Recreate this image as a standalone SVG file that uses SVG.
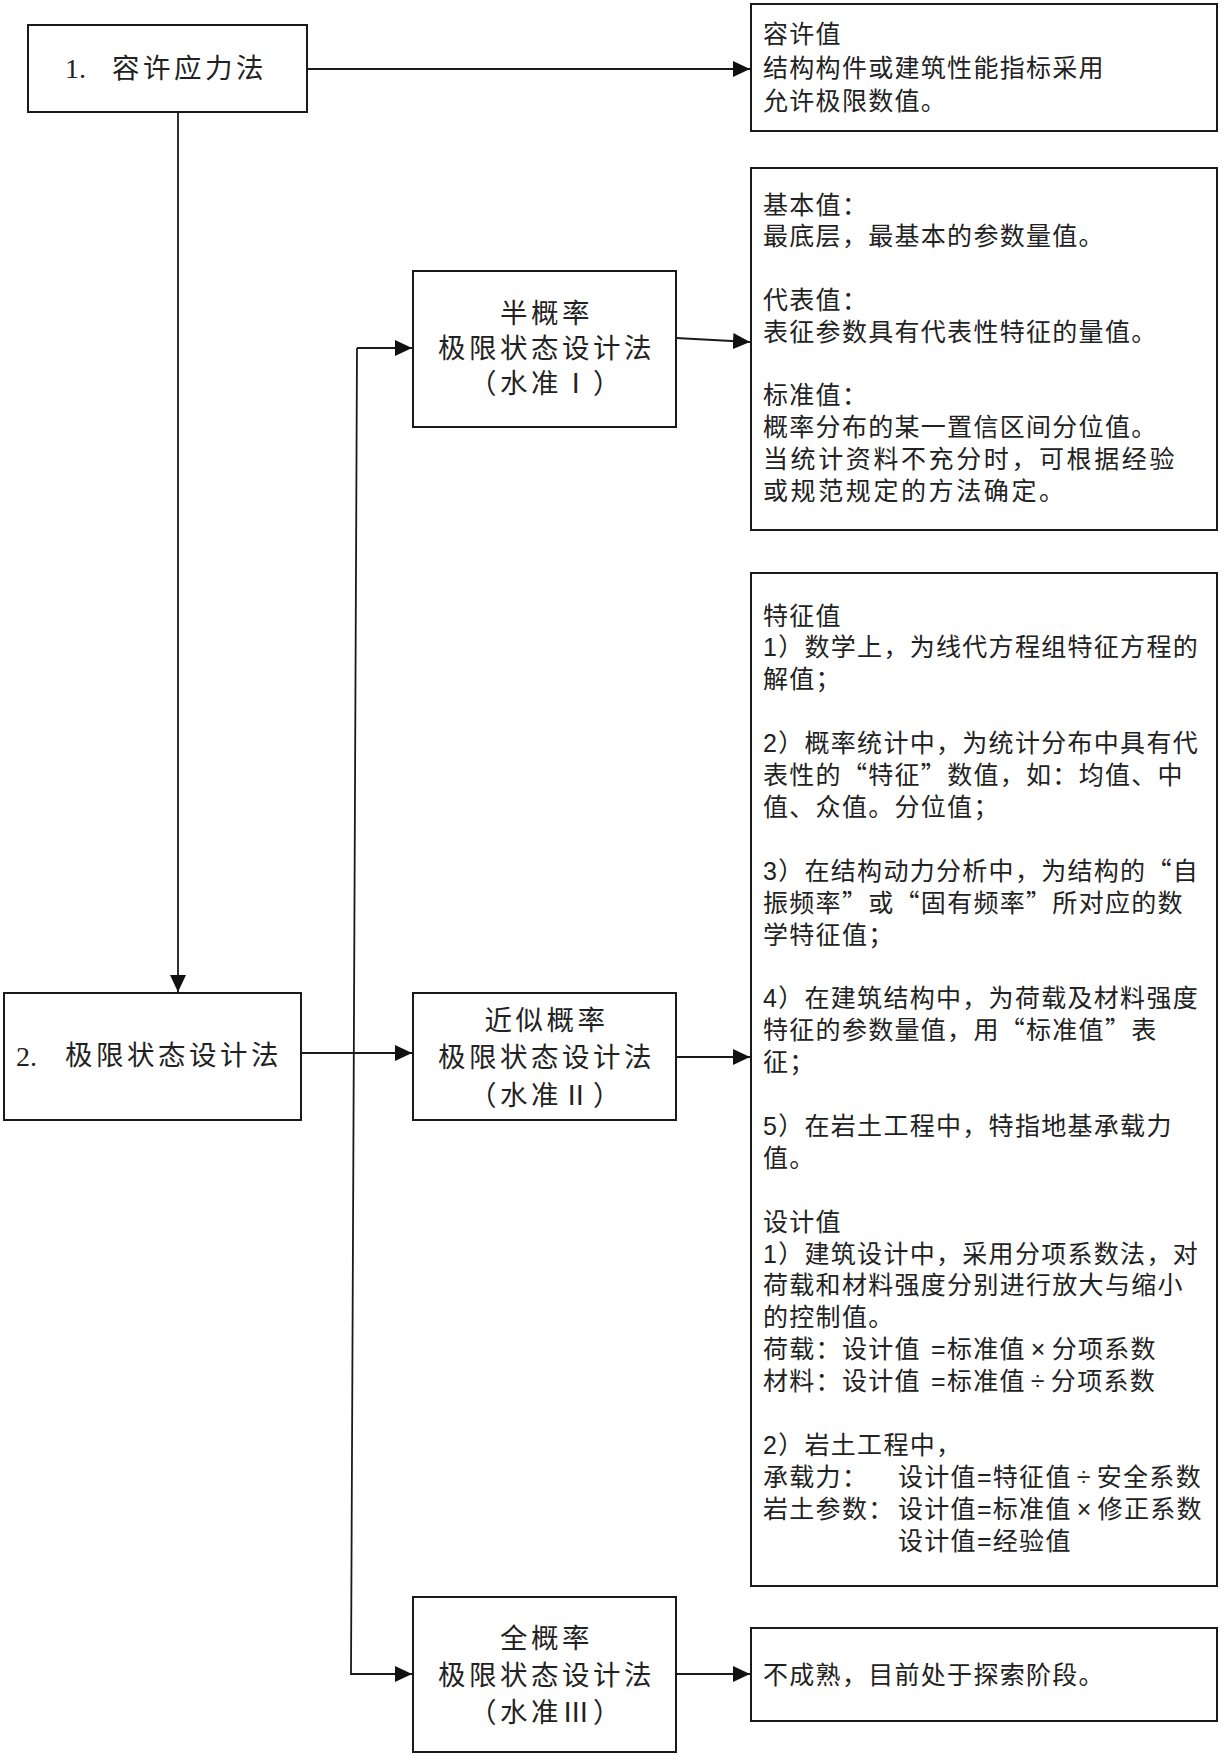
<svg xmlns="http://www.w3.org/2000/svg" width="1225" height="1756" viewBox="0 0 1225 1756">
<defs>
<style>
.box{fill:#fff;stroke:#1a1a1a;stroke-width:2}
.ln{fill:none;stroke:#1a1a1a;stroke-width:1.8}
.t{font-family:"Liberation Sans","Noto Sans CJK SC","Noto Sans CJK JP",sans-serif;font-size:25px;fill:#222;letter-spacing:1.3px}
.m{font-family:"Liberation Sans","Noto Sans CJK SC","Noto Sans CJK JP",sans-serif;font-size:27.5px;fill:#222;letter-spacing:3.5px;text-anchor:middle}
.h{font-family:"Liberation Sans","Noto Sans CJK SC","Noto Sans CJK JP",sans-serif;font-size:27.5px;fill:#222;letter-spacing:3.5px}
.d{font-family:"Liberation Serif",serif;font-size:28px;fill:#222}
.c{font-family:"Noto Sans CJK SC","Noto Sans CJK JP",sans-serif}
</style>
<marker id="ah" markerUnits="userSpaceOnUse" markerWidth="18" markerHeight="16" refX="17" refY="8" orient="auto" viewBox="0 0 18 16"><path d="M0,0 L17,8 L0,16 z" fill="#111"/></marker>
</defs>
<rect width="1225" height="1756" fill="#fff"/>

<g id="connectors">
<path class="ln" d="M307,69 L750,69" marker-end="url(#ah)"/>
<path class="ln" d="M178,112 L178,992" marker-end="url(#ah)"/>
<path class="ln" d="M301,1053 L412,1053" marker-end="url(#ah)"/>
<path class="ln" d="M357,348 L412,348" marker-end="url(#ah)"/>
<path class="ln" d="M357,348 L351,1674 L412,1674" marker-end="url(#ah)"/>
<path class="ln" d="M676,338 L750,342" marker-end="url(#ah)"/>
<path class="ln" d="M676,1057 L750,1057" marker-end="url(#ah)"/>
<path class="ln" d="M676,1674 L750,1674" marker-end="url(#ah)"/>
</g>

<g id="n1">
<rect class="box" x="28" y="25" width="279" height="87"/>
<text class="d" x="65" y="78">1.</text>
<text class="h" x="112" y="78">容许应力法</text>
</g>

<g id="n2">
<rect class="box" x="4" y="993" width="297" height="127"/>
<text class="d" x="16" y="1066">2.</text>
<text class="h" x="65" y="1065">极限状态设计法</text>
</g>

<g id="n_half">
<rect class="box" x="413" y="271" width="263" height="156"/>
<text class="m" x="546.5" y="323">半概率</text>
<text class="m" x="546.5" y="358">极限状态设计法</text>
<text class="m" x="546.5" y="393">（水准Ⅰ）</text>
</g>

<g id="n_approx">
<rect class="box" x="413" y="993" width="263" height="127"/>
<text class="m" x="546.5" y="1030">近似概率</text>
<text class="m" x="546.5" y="1067">极限状态设计法</text>
<text class="m" x="546.5" y="1104.5">（水准Ⅱ）</text>
</g>

<g id="n_full">
<rect class="box" x="413" y="1597" width="263" height="155"/>
<text class="m" x="546.5" y="1648">全概率</text>
<text class="m" x="546.5" y="1685">极限状态设计法</text>
<text class="m" x="546.5" y="1722">（水准Ⅲ）</text>
</g>

<g id="n_allow">
<rect class="box" x="751" y="4" width="466" height="127"/>
<text class="t" x="763" y="43">容许值<tspan x="763" dy="34">结构构件或建筑性能指标采用</tspan><tspan x="763" dy="33">允许极限数值。</tspan></text>
</g>

<g id="n_basic">
<rect class="box" x="751" y="168" width="466" height="362"/>
<text class="t" x="763" y="213.5">基本值：<tspan x="763" dy="31.8">最底层，最基本的参数量值。</tspan><tspan x="763" dy="63.7">代表值：</tspan><tspan x="763" dy="31.8">表征参数具有代表性特征的量值。</tspan><tspan x="763" dy="63.6">标准值：</tspan><tspan x="763" dy="31.8">概率分布的某一置信区间分位值。</tspan><tspan x="763" dy="31.8" style="letter-spacing:2.6px">当统计资料不充分时，可根据经验</tspan><tspan x="763" dy="31.8" style="letter-spacing:2.6px">或规范规定的方法确定。</tspan></text>
</g>

<g id="n_char">
<rect class="box" x="751" y="573" width="466" height="1013"/>
<text class="t" x="763" y="624.5">特征值<tspan x="763" dy="31.9">1）数学上，为线代方程组特征方程的</tspan><tspan x="763" dy="31.9">解值；</tspan><tspan x="763" dy="63.8">2）概率统计中，为统计分布中具有代</tspan><tspan x="763" dy="31.9">表性的<tspan class="c">“</tspan>特征<tspan class="c">”</tspan>数值，如：均值、中</tspan><tspan x="763" dy="31.9">值、众值。分位值；</tspan><tspan x="763" dy="63.8">3）在结构动力分析中，为结构的<tspan class="c">“</tspan>自</tspan><tspan x="763" dy="31.9">振频率<tspan class="c">”</tspan>或<tspan class="c">“</tspan>固有频率<tspan class="c">”</tspan>所对应的数</tspan><tspan x="763" dy="31.9">学特征值；</tspan><tspan x="763" dy="63.8">4）在建筑结构中，为荷载及材料强度</tspan><tspan x="763" dy="31.9">特征的参数量值，用<tspan class="c">“</tspan>标准值<tspan class="c">”</tspan>表</tspan><tspan x="763" dy="31.9">征；</tspan><tspan x="763" dy="63.8">5）在岩土工程中，特指地基承载力</tspan><tspan x="763" dy="31.9">值。</tspan><tspan x="763" dy="63.8">设计值</tspan><tspan x="763" dy="31.9">1）建筑设计中，采用分项系数法，对</tspan><tspan x="763" dy="31.9">荷载和材料强度分别进行放大与缩小</tspan><tspan x="763" dy="31.9">的控制值。</tspan><tspan x="763" dy="31.9">荷载：设计值</tspan><tspan x="931">=标准值<tspan dx="5">×</tspan><tspan dx="5">分项系数</tspan></tspan><tspan x="763" dy="31.9">材料：设计值</tspan><tspan x="931">=标准值<tspan dx="5">÷</tspan><tspan dx="5">分项系数</tspan></tspan><tspan x="763" dy="63.8">2）岩土工程中，</tspan><tspan x="763" dy="31.9">承载力：</tspan><tspan x="898">设计值=特征值<tspan dx="5">÷</tspan><tspan dx="5">安全系数</tspan></tspan><tspan x="763" dy="31.9">岩土参数：</tspan><tspan x="898">设计值=标准值<tspan dx="5">×</tspan><tspan dx="5">修正系数</tspan></tspan><tspan x="898" dy="31.9">设计值=经验值</tspan></text>
</g>

<g id="n_immature">
<rect class="box" x="751" y="1628" width="466" height="93"/>
<text class="t" x="763" y="1684">不成熟，目前处于探索阶段。</text>
</g>
</svg>
